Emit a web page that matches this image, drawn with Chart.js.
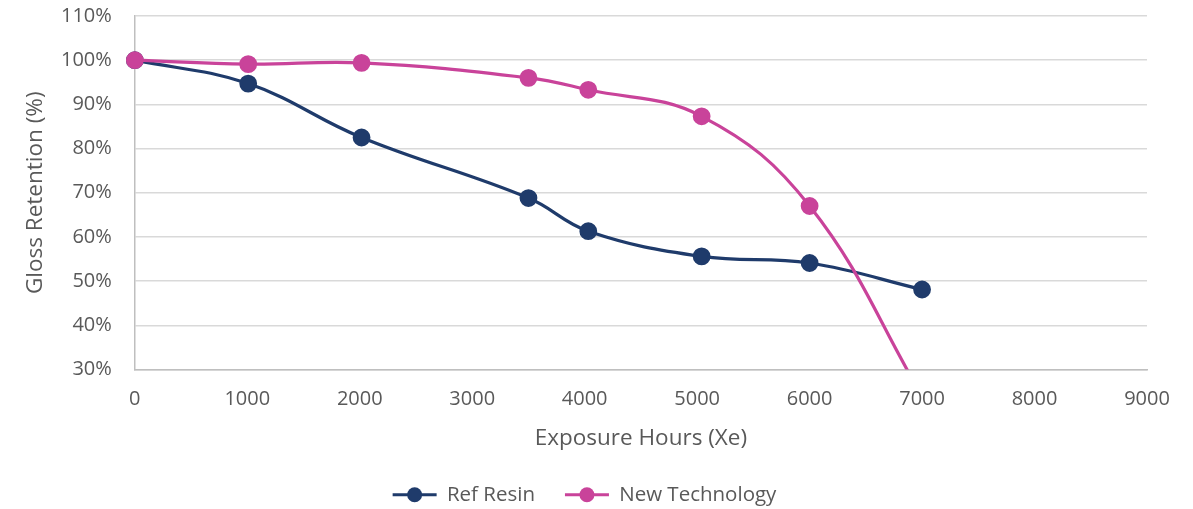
<!DOCTYPE html>
<html>
<head>
<meta charset="utf-8">
<script src="https://cdn.jsdelivr.net/npm/chart.js@4/dist/chart.umd.min.js"></script>
<style>
  html, body { margin: 0; padding: 0; background: #ffffff; }
  #wrap { width: 1193px; height: 509px; position: relative; }
</style>
</head>
<body>
<div id="wrap"><canvas id="chart"></canvas></div>
<script>
// Gloss retention (%) against xenon exposure hours
const refHours = [0, 1008, 2016, 3500, 4032, 5040, 6000, 7000];
const refGloss = [100, 94.7, 82.5, 68.8, 61.3, 55.6, 54.1, 48.1];
const newHours = [0, 1008, 2016, 3500, 4032, 5040, 6000, 7000];
const newGloss = [100, 99.1, 99.4, 96.0, 93.3, 87.3, 67.0, 24.0];
const xTicks = [0, 1000, 2000, 3000, 4000, 5000, 6000, 7000, 8000, 9000];
const yTicks = [30, 40, 50, 60, 70, 80, 90, 100, 110];

const toPoints = (xs, ys) => xs.map((x, i) => ({ x: x, y: ys[i] }));

const textColor = '#595959';
const fontFamily = '"Open Sans", "Noto Sans", sans-serif';
// let markers overhang the plot edges, but cut lines at the bottom axis
const plotClip = { left: 12, right: 12, top: 12, bottom: 0 };

new Chart(document.getElementById('chart'), {
  type: 'scatter',
  data: {
    datasets: [
      {
        label: 'Ref Resin',
        data: toPoints(refHours, refGloss),
        showLine: true,
        borderColor: '#1F3B6B',
        backgroundColor: '#1F3B6B',
        borderWidth: 3.2,
        pointRadius: 7.3,
        pointHoverRadius: 7.3,
        tension: 0.4,
        clip: plotClip,
        order: 1
      },
      {
        label: 'New Technology',
        data: toPoints(newHours, newGloss),
        showLine: true,
        borderColor: '#C9439A',
        backgroundColor: '#C9439A',
        borderWidth: 3.2,
        pointRadius: 7.3,
        pointHoverRadius: 7.3,
        tension: 0.4,
        clip: plotClip,
        order: 0
      }
    ]
  },
  options: {
    responsive: true,
    maintainAspectRatio: false,
    animation: false,
    layout: { padding: { left: 22, right: 46, top: 0, bottom: -6 } },
    plugins: {
      tooltip: { enabled: false },
      legend: {
        position: 'bottom',
        labels: {
          color: textColor,
          font: { family: fontFamily, size: 20.5 },
          boxWidth: 44,
          boxHeight: 0,
          padding: 30,
          generateLabels: (chart) => chart.data.datasets.map((ds, i) => ({
            text: ds.label,
            fillStyle: ds.backgroundColor,
            strokeStyle: ds.borderColor,
            lineWidth: 3.2,
            pointStyle: 'line',
            datasetIndex: i,
            hidden: false,
            fontColor: textColor
          }))
        }
      }
    },
    scales: {
      x: {
        type: 'linear',
        min: 0,
        max: 9000,
        afterBuildTicks: (axis) => { axis.ticks = xTicks.map(v => ({ value: v })); },
        ticks: {
          color: textColor,
          font: { family: fontFamily, size: 20 },
          padding: 18,
          callback: (v) => String(v)
        },
        grid: { display: false, drawTicks: false },
        border: { display: true, color: '#BFBFBF', width: 1.5 },
        title: {
          display: true,
          text: 'Exposure Hours (Xe)',
          color: textColor,
          font: { family: fontFamily, size: 22.5 },
          padding: { top: -4, bottom: 2 }
        }
      },
      y: {
        min: 30,
        max: 110,
        afterBuildTicks: (axis) => { axis.ticks = yTicks.map(v => ({ value: v })); },
        ticks: {
          color: textColor,
          font: { family: fontFamily, size: 20 },
          padding: 4,
          callback: (v) => v + '%'
        },
        grid: {
          color: '#D9D9D9',
          lineWidth: 1.5,
          drawTicks: true,
          tickLength: 19,
          tickColor: 'rgba(0,0,0,0)'
        },
        border: { display: true, color: '#BFBFBF', width: 1.5 },
        title: {
          display: true,
          text: 'Gloss Retention (%)',
          color: textColor,
          font: { family: fontFamily, size: 22.5 },
          padding: { top: 0, bottom: 8 }
        }
      }
    }
  },
  plugins: [{
    // draw a round marker in the middle of each legend line
    id: 'legendMarkers',
    afterDraw(chart) {
      const legend = chart.legend;
      if (!legend || !legend.legendHitBoxes) return;
      const ctx = chart.ctx;
      legend.legendHitBoxes.forEach((box, i) => {
        const item = legend.legendItems[i];
        const ds = chart.data.datasets[item.datasetIndex];
        const cx = box.left + 22;
        const cy = box.top + box.height / 2;
        ctx.save();
        ctx.fillStyle = ds.backgroundColor;
        ctx.beginPath();
        ctx.arc(cx, cy, 7.5, 0, Math.PI * 2);
        ctx.fill();
        ctx.restore();
      });
    }
  }]
});
</script>
</body>
</html>
